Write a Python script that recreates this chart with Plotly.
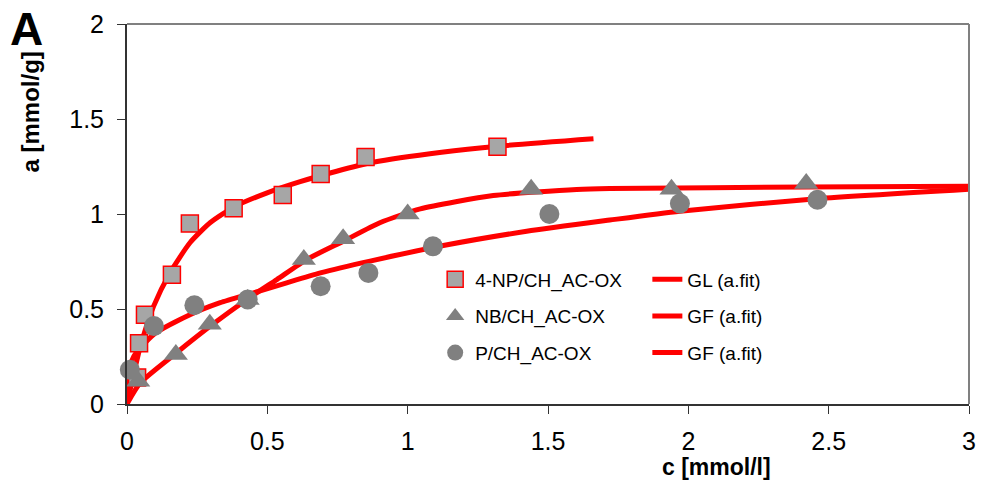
import plotly.graph_objects as go

np_c = [0.036, 0.043, 0.064, 0.16, 0.224, 0.38, 0.555, 0.69, 0.85, 1.32]
np_a = [0.14, 0.32, 0.47, 0.68, 0.95, 1.03, 1.10, 1.21, 1.30, 1.354]

nb_c = [0.04, 0.174, 0.295, 0.43, 0.63, 0.77, 1.0, 1.44, 1.94, 2.42]
nb_a = [0.12, 0.26, 0.42, 0.55, 0.76, 0.87, 1.0, 1.13, 1.13, 1.16]

p_c = [0.01, 0.096, 0.24, 0.43, 0.69, 0.86, 1.09, 1.505, 1.97, 2.46]
p_a = [0.18, 0.41, 0.52, 0.55, 0.62, 0.69, 0.83, 1.0, 1.055, 1.075]

# fitted curves
gl_c = [0.0, 0.047, 0.095, 0.153, 0.225, 0.297, 0.385, 0.497, 0.617, 0.747, 0.877, 1.121, 1.323, 1.662]
gl_a = [0.0, 0.30, 0.515, 0.69, 0.85, 0.955, 1.04, 1.11, 1.17, 1.225, 1.272, 1.325, 1.357, 1.396]

gf_nb_c = [0.0, 0.047, 0.177, 0.297, 0.427, 0.534, 0.64, 0.771, 0.901, 1.045, 1.305, 1.602, 1.72, 2.42, 3.0]
gf_nb_a = [0.0, 0.111, 0.27, 0.41, 0.55, 0.655, 0.76, 0.857, 0.954, 1.027, 1.097, 1.129, 1.134, 1.142, 1.146]

gf_p_c = [0.0, 0.005, 0.024, 0.095, 0.213, 0.332, 0.451, 0.569, 0.689, 0.866, 1.127, 1.424, 1.72, 1.97, 2.457, 3.0]
gf_p_a = [0.0, 0.16, 0.25, 0.366, 0.462, 0.533, 0.585, 0.638, 0.69, 0.752, 0.834, 0.909, 0.968, 1.015, 1.08, 1.13]

x_ticks = [0, 0.5, 1, 1.5, 2, 2.5, 3]
x_tick_text = ["0", "0.5", "1", "1.5", "2", "2.5", "3"]
y_ticks = [0, 0.5, 1, 1.5, 2]
y_tick_text = ["0", "0.5", "1", "1.5", "2"]

FONT = "Liberation Sans, Arial, sans-serif"
RED = "#FF0000"

fig = go.Figure()

# fit lines (legend 2)
for name, cx, ay, grp in [("GL (a.fit)", gl_c, gl_a, "l1"),
                          ("GF (a.fit)", gf_nb_c, gf_nb_a, "l2"),
                          ("GF (a.fit)", gf_p_c, gf_p_a, "l3")]:
    fig.add_trace(go.Scatter(x=cx, y=ay, mode="lines", name=name,
                             line=dict(color=RED, width=5, shape="spline", smoothing=0.6),
                             legend="legend2", legendgroup=grp))

# markers (legend 1)
fig.add_trace(go.Scatter(x=np_c, y=np_a, mode="markers", name="4-NP/CH_AC-OX",
                         marker=dict(symbol="square", size=17, color="#A6A6A6",
                                     line=dict(color=RED, width=1.5)),
                         cliponaxis=False, legend="legend", legendgroup="m1"))
fig.add_trace(go.Scatter(x=nb_c, y=nb_a, mode="markers", name="NB/CH_AC-OX",
                         marker=dict(symbol="triangle-up", size=21, color="#808080",
                                     line=dict(width=0)),
                         cliponaxis=False, legend="legend", legendgroup="m2"))
fig.add_trace(go.Scatter(x=p_c, y=p_a, mode="markers", name="P/CH_AC-OX",
                         marker=dict(symbol="circle", size=20, color="#808080",
                                     line=dict(width=0)),
                         cliponaxis=False, legend="legend", legendgroup="m3"))

W, H = 981, 487
L, R, T, B = 127, 12, 24, 83

fig.update_layout(
    width=W, height=H,
    margin=dict(l=L, r=R, t=T, b=B, autoexpand=False),
    paper_bgcolor="white", plot_bgcolor="white",
    font=dict(family=FONT, color="black"),
    showlegend=True,
    legend=dict(x=0.366, y=0.378, xanchor="left", yanchor="top",
                font=dict(size=19, family=FONT), bgcolor="rgba(0,0,0,0)",
                tracegroupgap=9, itemsizing="trace"),
    legend2=dict(x=0.618, y=0.378, xanchor="left", yanchor="top",
                 font=dict(size=19, family=FONT), bgcolor="rgba(0,0,0,0)",
                 tracegroupgap=9),
    xaxis=dict(range=[0, 3], tickvals=x_ticks, ticktext=x_tick_text, automargin=False,
               showgrid=False, zeroline=False, showline=True, linecolor="#333333",
               linewidth=2, ticks="outside", ticklen=8, tickwidth=1, tickcolor="#333333",
               tickfont=dict(size=25, family=FONT), ticklabelstandoff=6),
    yaxis=dict(range=[0, 2], tickvals=y_ticks, ticktext=y_tick_text, automargin=False,
               showgrid=False, zeroline=False, showline=True, linecolor="#333333",
               linewidth=2, ticks="outside", ticklen=8, tickwidth=1, tickcolor="#333333",
               tickfont=dict(size=25, family=FONT), ticklabelstandoff=8),
    shapes=[
        dict(type="line", xref="paper", yref="paper", x0=0, x1=1, y0=1, y1=1,
             line=dict(color="#808080", width=2)),
        dict(type="line", xref="paper", yref="paper", x0=1, x1=1, y0=0, y1=1,
             line=dict(color="#808080", width=2)),
    ],
    annotations=[
        dict(text="<b>A</b>", xref="paper", yref="paper", x=-0.141, y=1.06,
             xanchor="left", yanchor="top", showarrow=False,
             font=dict(size=46, family=FONT, color="black")),
        dict(text="<b>a [mmol/g]</b>", xref="paper", yref="paper", x=-0.114, y=0.767,
             xanchor="center", yanchor="middle", textangle=-90, showarrow=False,
             font=dict(size=24, family=FONT, color="black")),
        dict(text="<b>c [mmol/l]</b>", xref="paper", yref="paper", x=0.70, y=-0.165,
             xanchor="center", yanchor="middle", showarrow=False,
             font=dict(size=23, family=FONT, color="black")),
    ],
)

fig.write_html("out.html")
